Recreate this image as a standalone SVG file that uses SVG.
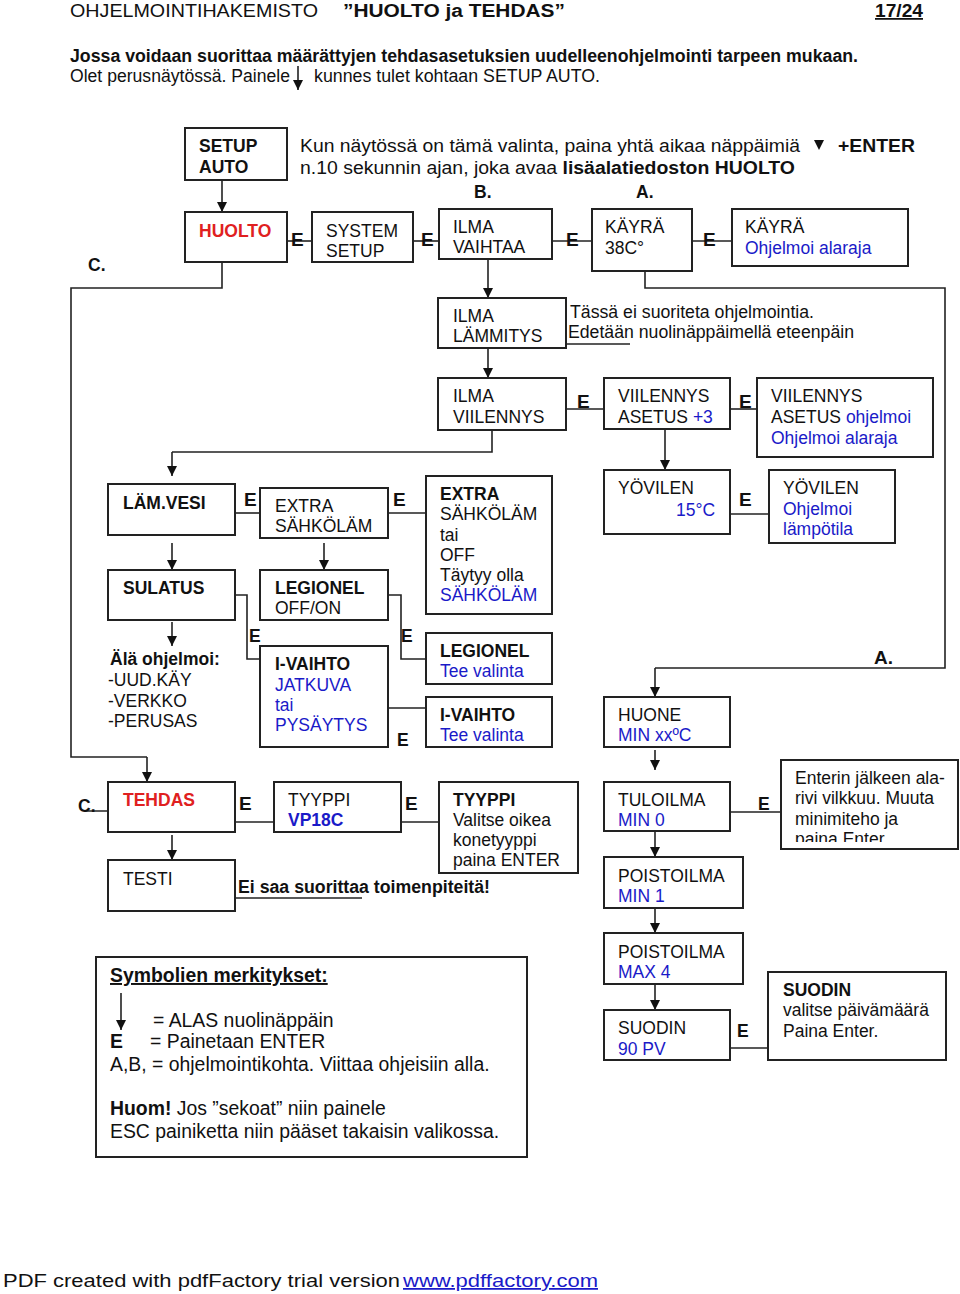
<svg xmlns="http://www.w3.org/2000/svg" width="960" height="1294" viewBox="0 0 960 1294">
<style>
text{font-family:"Liberation Sans",Arial,sans-serif;font-size:17.5px;fill:#111}
.b{font-weight:bold}
.bl{fill:#1a1ac8}
.rd{fill:#e02020}
.e{font-weight:bold;font-size:19px}
.lg{font-size:19.4px}
.box{fill:#fff;stroke:#222;stroke-width:2}
.ln{fill:none;stroke:#222;stroke-width:1.6}
.ar{fill:none;stroke:#222;stroke-width:1.6;marker-end:url(#ah)}
</style>
<defs>
<marker id="ah" viewBox="0 0 10 10" refX="10" refY="5" markerWidth="12" markerHeight="10" markerUnits="userSpaceOnUse" orient="auto">
<path d="M0,0 L10,5 L0,10 z" fill="#111"/>
</marker>
<clipPath id="clipEnter"><rect x="781" y="760" width="178" height="82"/></clipPath>
</defs>
<rect width="960" height="1294" fill="#fff"/>

<g id="header">
<text x="70" y="17" font-size="20" textLength="248" lengthAdjust="spacingAndGlyphs">OHJELMOINTIHAKEMISTO</text>
<text x="343" y="17" class="b" font-size="22" textLength="222" lengthAdjust="spacingAndGlyphs">”HUOLTO ja TEHDAS”</text>
<text x="875" y="17" class="b" font-size="20" text-decoration="underline" textLength="48" lengthAdjust="spacingAndGlyphs">17/24</text>
<text x="70" y="62" class="b" font-size="17" textLength="788" lengthAdjust="spacingAndGlyphs">Jossa voidaan suorittaa määrättyjen tehdasasetuksien  uudelleenohjelmointi tarpeen mukaan.</text>
<text x="70" y="82" font-size="17" textLength="220" lengthAdjust="spacingAndGlyphs">Olet perusnäytössä. Painele</text>
<path class="ar" d="M298,66 V90"/>
<text x="314" y="82" font-size="17" textLength="286" lengthAdjust="spacingAndGlyphs">kunnes tulet kohtaan SETUP AUTO.</text>
</g>

<g id="intro">
<text x="300" y="152" textLength="500" lengthAdjust="spacingAndGlyphs">Kun näytössä on tämä valinta, paina yhtä aikaa näppäimiä</text>
<path d="M814,140 L824,140 L819,150 z" fill="#111"/>
<text x="838" y="152" class="b" textLength="77" lengthAdjust="spacingAndGlyphs">+ENTER</text>
<text x="300" y="174" textLength="495" lengthAdjust="spacingAndGlyphs">n.10 sekunnin ajan, joka avaa <tspan class="b">lisäalatiedoston HUOLTO</tspan></text>
<text x="474" y="198" class="b" font-size="19">B.</text>
<text x="636" y="198" class="b" font-size="19">A.</text>
<text x="88" y="271" class="b" font-size="19">C.</text>
</g>

<g id="connectors">
<path class="ar" d="M222,180 V212"/>
<path class="ln" d="M287,241 H312"/>
<path class="ln" d="M413,241 H439"/>
<path class="ln" d="M552,241 H592"/>
<path class="ln" d="M692,241 H732"/>
<path class="ln" d="M222,262 V288 H71 V757 H147"/>
<path class="ar" d="M147,757 V782"/>
<path class="ln" d="M645,271 V288 H945 V668 H655"/>
<path class="ar" d="M655,668 V697"/>
<path class="ar" d="M488,259 V298"/>
<path class="ln" d="M553,344 H630"/>
<path class="ar" d="M488,348 V378"/>
<path class="ln" d="M566,409 H604"/>
<path class="ln" d="M730,409 H757"/>
<path class="ln" d="M492,430 V452 H172"/>
<path class="ar" d="M172,452 V476"/>
<path class="ar" d="M665,429 V470"/>
<path class="ln" d="M235,513 H260"/>
<path class="ln" d="M388,513 H426"/>
<path class="ln" d="M730,514 H769"/>
<path class="ar" d="M172,543 V570"/>
<path class="ar" d="M324,543 V570"/>
<path class="ar" d="M172,622 V646"/>
<path class="ln" d="M235,595 H247 V659 H260"/>
<path class="ln" d="M388,595 H401 V659 H426"/>
<path class="ln" d="M388,708 H426"/>
<path class="ar" d="M655,750 V770"/>
<path class="ln" d="M730,812 H781"/>
<path class="ar" d="M655,831 V857"/>
<path class="ar" d="M655,908 V933"/>
<path class="ar" d="M655,984 V1010"/>
<path class="ln" d="M730,1048 H768"/>
<path class="ln" d="M85,811 H121"/>
<path class="ln" d="M235,822 H274"/>
<path class="ln" d="M401,822 H439"/>
<path class="ar" d="M172,835 V860"/>
<path class="ln" d="M235,898 H362"/>
</g>

<g id="n-setupauto"><rect class="box" x="185" y="128" width="102" height="52"/><text x="199" y="152" class="b">SETUP</text><text x="199" y="173" class="b">AUTO</text></g>
<g id="n-huolto"><rect class="box" x="185" y="212" width="102" height="50"/><text x="199" y="237" class="b rd">HUOLTO</text></g>
<text x="291" y="246" class="e">E</text>
<g id="n-system"><rect class="box" x="312" y="212" width="101" height="50"/><text x="326" y="237">SYSTEM</text><text x="326" y="257">SETUP</text></g>
<text x="421" y="246" class="e">E</text>
<g id="n-ilmavaihtaa"><rect class="box" x="439" y="209" width="113" height="50"/><text x="453" y="233">ILMA</text><text x="453" y="253">VAIHTAA</text></g>
<text x="566" y="246" class="e">E</text>
<g id="n-kayra38"><rect class="box" x="592" y="209" width="100" height="62"/><text x="605" y="233">KÄYRÄ</text><text x="605" y="254">38C°</text></g>
<text x="703" y="246" class="e">E</text>
<g id="n-kayraohj"><rect class="box" x="732" y="209" width="176" height="57"/><text x="745" y="233">KÄYRÄ</text><text x="745" y="254" class="bl">Ohjelmoi alaraja</text></g>

<g id="n-ilmalammitys"><rect class="box" x="438" y="298" width="128" height="50"/><text x="453" y="322">ILMA</text><text x="453" y="342">LÄMMITYS</text></g>
<text x="570" y="318" textLength="244" lengthAdjust="spacingAndGlyphs">Tässä ei suoriteta ohjelmointia.</text>
<text x="568" y="338" textLength="286" lengthAdjust="spacingAndGlyphs">Edetään nuolinäppäimellä eteenpäin</text>

<g id="n-ilmaviilennys"><rect class="box" x="438" y="378" width="128" height="52"/><text x="453" y="402">ILMA</text><text x="453" y="423">VIILENNYS</text></g>
<text x="577" y="408" class="e">E</text>
<g id="n-viilasetus"><rect class="box" x="604" y="378" width="126" height="51"/><text x="618" y="402">VIILENNYS</text><text x="618" y="423">ASETUS <tspan class="bl">+3</tspan></text></g>
<text x="739" y="408" class="e">E</text>
<g id="n-viilohj"><rect class="box" x="757" y="378" width="176" height="79"/><text x="771" y="402">VIILENNYS</text><text x="771" y="423">ASETUS <tspan class="bl">ohjelmoi</tspan></text><text x="771" y="444" class="bl">Ohjelmoi alaraja</text></g>

<g id="n-lamvesi"><rect class="box" x="108" y="484" width="127" height="51"/><text x="123" y="509" class="b">LÄM.VESI</text></g>
<text x="244" y="506" class="e" font-size="21">E</text>
<g id="n-extra"><rect class="box" x="260" y="488" width="128" height="50"/><text x="275" y="512">EXTRA</text><text x="275" y="532">SÄHKÖLÄM</text></g>
<text x="393" y="506" class="e" font-size="21">E</text>
<g id="n-extra2"><rect class="box" x="426" y="476" width="126" height="138"/><text x="440" y="500" class="b">EXTRA</text><text x="440" y="520">SÄHKÖLÄM</text><text x="440" y="541">tai</text><text x="440" y="561">OFF</text><text x="440" y="581">Täytyy olla</text><text x="440" y="601" class="bl">SÄHKÖLÄM</text></g>

<g id="n-sulatus"><rect class="box" x="108" y="570" width="127" height="50"/><text x="123" y="594" class="b">SULATUS</text></g>
<g id="n-legionel"><rect class="box" x="260" y="570" width="128" height="50"/><text x="275" y="594" class="b">LEGIONEL</text><text x="275" y="614">OFF/ON</text></g>

<g id="n-alaohj"><text x="110" y="665" class="b">Älä ohjelmoi:</text><text x="108" y="686">-UUD.KÄY</text><text x="108" y="707">-VERKKO</text><text x="108" y="727">-PERUSAS</text></g>
<text x="249" y="642" class="b" font-size="17">E</text>
<text x="401" y="642" class="b" font-size="17">E</text>
<g id="n-ivaihto"><rect class="box" x="260" y="646" width="128" height="101"/><text x="275" y="670" class="b">I-VAIHTO</text><text x="275" y="691" class="bl">JATKUVA</text><text x="275" y="711" class="bl">tai</text><text x="275" y="731" class="bl">PYSÄYTYS</text></g>
<g id="n-legtee"><rect class="box" x="426" y="633" width="126" height="51"/><text x="440" y="657" class="b">LEGIONEL</text><text x="440" y="677" class="bl">Tee valinta</text></g>
<g id="n-ivtee"><rect class="box" x="426" y="697" width="126" height="50"/><text x="440" y="721" class="b">I-VAIHTO</text><text x="440" y="741" class="bl">Tee valinta</text></g>
<text x="397" y="746" class="b" font-size="17">E</text>

<g id="n-yovilen"><rect class="box" x="604" y="470" width="126" height="64"/><text x="618" y="494">YÖVILEN</text><text x="676" y="516" class="bl">15°C</text></g>
<text x="739" y="506" class="e">E</text>
<g id="n-yovilenohj"><rect class="box" x="769" y="470" width="126" height="73"/><text x="783" y="494">YÖVILEN</text><text x="783" y="515" class="bl">Ohjelmoi</text><text x="783" y="535" class="bl">lämpötila</text></g>
<text x="874" y="664" class="e">A.</text>

<g id="n-huone"><rect class="box" x="604" y="697" width="126" height="50"/><text x="618" y="721">HUONE</text><text x="618" y="741" class="bl">MIN xxºC</text></g>
<g id="n-tuloilma"><rect class="box" x="604" y="782" width="126" height="49"/><text x="618" y="806">TULOILMA</text><text x="618" y="826" class="bl">MIN 0</text></g>
<text x="758" y="810" class="b" font-size="17">E</text>
<g id="n-enterin"><rect class="box" x="781" y="760" width="177" height="89"/><g clip-path="url(#clipEnter)"><text x="795" y="784">Enterin jälkeen ala-</text><text x="795" y="804">rivi vilkkuu. Muuta</text><text x="795" y="825">minimiteho ja</text><text x="795" y="845">paina Enter</text></g></g>
<g id="n-poistomin"><rect class="box" x="604" y="857" width="139" height="51"/><text x="618" y="882">POISTOILMA</text><text x="618" y="902" class="bl">MIN 1</text></g>
<g id="n-poistomax"><rect class="box" x="604" y="933" width="139" height="51"/><text x="618" y="958">POISTOILMA</text><text x="618" y="978" class="bl">MAX 4</text></g>
<g id="n-suodin"><rect class="box" x="604" y="1010" width="126" height="50"/><text x="618" y="1034">SUODIN</text><text x="618" y="1055" class="bl">90 PV</text></g>
<text x="737" y="1037" class="b" font-size="17">E</text>
<g id="n-suodin2"><rect class="box" x="768" y="972" width="178" height="88"/><text x="783" y="996" class="b">SUODIN</text><text x="783" y="1016">valitse päivämäärä</text><text x="783" y="1037">Paina Enter.</text></g>

<g id="n-tehdas"><rect class="box" x="108" y="782" width="127" height="50"/><text x="123" y="806" class="b rd">TEHDAS</text></g>
<text x="78" y="812" class="b" font-size="17">C.</text>
<text x="239" y="810" class="e">E</text>
<g id="n-tyyppi"><rect class="box" x="274" y="782" width="127" height="50"/><text x="288" y="806">TYYPPI</text><text x="288" y="826" class="b bl">VP18C</text></g>
<text x="405" y="810" class="e">E</text>
<g id="n-tyyppi2"><rect class="box" x="439" y="782" width="139" height="91"/><text x="453" y="806" class="b">TYYPPI</text><text x="453" y="826">Valitse oikea</text><text x="453" y="846">konetyyppi</text><text x="453" y="866">paina ENTER</text></g>
<g id="n-testi"><rect class="box" x="108" y="860" width="127" height="51"/><text x="123" y="885">TESTI</text></g>
<text x="238" y="893" class="b" textLength="252" lengthAdjust="spacingAndGlyphs">Ei saa suorittaa toimenpiteitä!</text>

<g id="legend">
<rect class="box" x="96" y="957" width="431" height="200"/>
<text x="110" y="982" class="b lg" text-decoration="underline">Symbolien merkitykset:</text>
<path class="ar" d="M121,993 V1030"/>
<text x="153" y="1027" class="lg">= ALAS nuolinäppäin</text>
<text x="110" y="1048" class="b lg">E</text>
<text x="150" y="1048" class="lg">= Painetaan ENTER</text>
<text x="110" y="1071" class="lg">A,B, = ohjelmointikohta. Viittaa ohjeisiin alla.</text>
<text x="110" y="1115" class="lg"><tspan class="b">Huom!</tspan> Jos ”sekoat” niin painele</text>
<text x="110" y="1138" class="lg">ESC painiketta niin pääset takaisin valikossa.</text>
</g>

<g id="footer">
<text x="3" y="1287" font-size="22" textLength="397" lengthAdjust="spacingAndGlyphs">PDF created with pdfFactory trial version</text>
<text x="403" y="1287" font-size="22" fill="#1a1ac8" style="fill:#1a1ac8" text-decoration="underline" textLength="195" lengthAdjust="spacingAndGlyphs">www.pdffactory.com</text>
</g>
</svg>
